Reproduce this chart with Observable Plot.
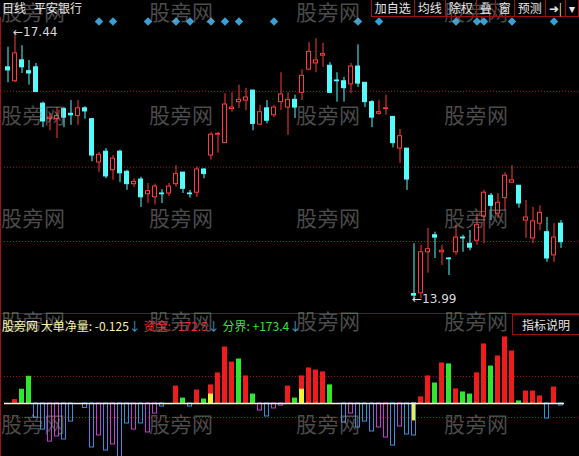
<!DOCTYPE html>
<html>
<head>
<meta charset="utf-8">
<script src="https://cdn.jsdelivr.net/npm/d3@7"></script>
<script src="https://cdn.jsdelivr.net/npm/@observablehq/plot@0.6"></script>
<style>
  html, body { margin: 0; padding: 0; background: #000; }
  #wrap { position: relative; width: 579px; height: 456px; overflow: hidden; background: #000;
          font-family: "Noto Sans CJK SC", "Noto Sans", sans-serif; }
  #wrap svg { position: absolute; left: 0; background: transparent; }
  .abs { position: absolute; white-space: nowrap; }
  .hdr { font-size: 12px; line-height: 14px; color: #e6e6e6; }
  .btns { position: absolute; top: 0; right: 0; height: 17px; display: flex; }
  .btn { border: 1px solid #a01010; border-top: none; margin-left: -1px; padding: 0 3px;
         font-size: 12px; line-height: 16px; color: #e6e6e6; }
  .wm { position: absolute; font-size: 21px; line-height: 22px; color: rgba(150,150,150,0.5);
        pointer-events: none; letter-spacing: 0.5px; }
  .legend { font-size: 12px; line-height: 14px; }
  .arrow { color: #3aa4d8; }
</style>
</head>
<body>
<div id="wrap"></div>
<script>
// ---- daily bars (平安银行, 80 sessions) ----
const opens  = [16.99,16.81,17.08,16.94,16.99,16.52,16.32,16.32,16.45,16.39,
                16.36,16.46,16.32,15.76,15.90,15.66,15.90,15.64,15.48,15.54,
                15.35,15.31,15.36,15.36,15.48,15.63,15.36,15.37,15.67,15.85,
                16.12,16.01,16.45,16.54,16.56,16.69,16.25,16.46,16.37,16.54,
                16.47,16.57,16.66,16.96,17.04,17.14,17.01,16.82,16.81,16.77,
                17.00,16.79,16.54,16.39,16.45,16.35,15.94,15.94,14.06,14.07,
                14.60,14.82,14.60,14.52,14.60,14.79,14.71,14.75,15.06,15.33,
                15.10,15.30,15.50,15.46,15.01,14.78,14.97,14.86,14.56,14.97];
const highs  = [17.25,17.44,17.27,17.08,17.04,16.54,16.39,16.47,16.47,16.56,
                16.56,16.48,16.32,15.89,15.94,15.85,15.92,15.66,15.55,15.57,
                15.49,15.48,15.41,15.49,15.72,15.63,15.40,15.70,15.68,16.15,
                16.15,16.65,16.66,16.76,16.72,16.69,16.50,16.56,16.50,16.92,
                16.66,16.63,16.96,17.31,17.36,17.30,17.05,16.92,16.86,17.04,
                17.28,16.79,16.56,16.56,16.63,16.35,16.19,15.94,14.71,14.69,
                14.91,14.86,14.69,14.53,14.95,14.82,14.88,15.10,15.40,15.36,
                15.36,15.63,15.72,15.46,15.27,15.18,15.20,15.05,14.97,15.01];
const lows   = [16.79,16.79,16.91,16.76,16.67,16.21,16.17,16.07,16.21,16.24,
                16.24,16.32,15.77,15.63,15.55,15.53,15.50,15.40,15.44,15.18,
                15.23,15.21,15.23,15.32,15.44,15.36,15.30,15.31,15.55,15.79,
                15.88,16.01,16.41,16.46,16.43,16.17,16.24,16.26,16.34,16.43,
                16.11,16.33,16.56,16.95,16.92,16.99,16.65,16.54,16.54,16.65,
                16.73,16.47,16.21,16.37,16.37,15.95,15.75,15.40,13.99,14.00,
                14.33,14.52,14.43,14.30,14.56,14.60,14.62,14.69,14.71,15.01,
                15.04,15.14,15.49,15.17,14.78,14.71,14.88,14.47,14.47,14.65];
const closes = [16.95,17.17,16.99,16.91,16.67,16.29,16.34,16.36,16.34,16.37,
                16.46,16.42,15.85,15.86,15.58,15.81,15.62,15.48,15.51,15.31,
                15.39,15.45,15.35,15.45,15.61,15.42,15.35,15.67,15.61,16.12,
                16.13,16.51,16.47,16.57,16.60,16.26,16.41,16.30,16.47,16.64,
                16.57,16.47,16.88,17.19,17.08,17.16,16.66,16.81,16.72,17.00,
                16.78,16.54,16.34,16.41,16.46,16.01,16.10,15.54,14.04,14.60,
                14.64,14.79,14.62,14.51,14.79,14.78,14.66,14.95,15.37,15.20,
                15.24,15.59,15.53,15.23,15.05,15.00,15.11,14.52,14.79,14.73];

// sessions flagged with a signal diamond
const signalDays = [13,15,20,24,26,29,31,33,38,50,53,64,67,68,72,78];

// dotted price guides
const priceGuides = [16.68, 15.70, 14.74];

// ---- 大单净量 indicator ----
const netVolume = [0,0.21,0.86,1.67,-0.88,-1.63,-2.38,-2.06,-2.25,-1.13,
                   0,-0.28,-2.75,-2.0,-2.94,-2.56,-3.5,-1.25,-1.63,-1.25,
                   -1.81,-0.63,-0.19,0,1.06,0.31,-0.19,0.81,0.25,1.13,
                   1.88,3.5,2.56,2.75,1.69,0.56,-0.44,-0.81,-0.31,-0.13,
                   1.06,0.31,1.69,2.19,2.06,1.94,1.13,0,-1.19,-0.63,
                   -1.5,-1.13,-1.75,-1.5,-2.13,-2.63,-1.44,-1.94,-2.0,0.38,
                   1.69,1.25,2.5,2.44,0.88,0.69,0.56,1.88,3.69,2.31,
                   2.94,4.13,3.25,0.13,0.75,0.75,0.44,-0.94,1.0,-0.125];
// bar class: R inflow, G weak inflow, B outflow, M heavy outflow
const netKind = ["B","R","G","G","B","B","M","M","B","B",
                 "B","B","B","M","B","M","B","B","M","B",
                 "M","M","B","B","R","G","B","R","G","R",
                 "R","R","R","G","R","G","M","B","M","M",
                 "R","G","R","R","R","R","G","B","B","M",
                 "B","B","B","M","M","B","M","B","B","R",
                 "R","G","R","G","R","G","G","R","R","G",
                 "R","R","R","G","R","R","R","B","R","B"];
// highlighted share of the bar (yellow)
const yellowShare = {29: 0.56, 42: 0.86, 58: -1.06};
const subGuides = [1.69, -0.88];

const legendValues = {net: -0.125, fund: -172.5, bound: 173.4};
const toolButtons = ["加自选","均线","除权","叠","窗","预测","➜|","▾"];

// ---- drawing ----
const RED = "#ff3b3b", CYAN = "#54fcfc", DIAMOND = "#3a9fd4";
const kindColor = {R: "#ee1c1c", G: "#2ee82e", B: "#3a8fd8", M: "#c23fd0"};
const YELLOW = "#f2f23a";
const GRID = "#a31515";
const n = opens.length;
const half = 2 / 7;                 // half body width in sessions (7px per session)
const xDomain = [-0.5, n - 0.5 + 15 / 7];

const candles = d3.range(n).map(i => ({i, o: opens[i], h: highs[i], l: lows[i], c: closes[i]}));
const ups = candles.filter(d => d.c >= d.o);
const downs = candles.filter(d => d.c < d.o);
const hi = candles[d3.maxIndex(highs)];
const lo = candles[d3.minIndex(lows)];

const wrap = document.getElementById("wrap");

const pricePlot = Plot.plot({
  width: 579, height: 313,
  marginLeft: 4, marginRight: 0, marginTop: 32, marginBottom: 14,
  style: {background: "transparent", overflow: "visible"},
  x: {domain: xDomain, axis: null},
  y: {domain: [d3.min(lows), d3.max(highs)], axis: null},
  marks: [
    Plot.ruleY(priceGuides, {stroke: GRID, strokeDasharray: "1,2"}),
    Plot.ruleX(ups, {x: "i", y1: "l", y2: "h", stroke: RED}),
    Plot.ruleX(downs, {x: "i", y1: "l", y2: "h", stroke: CYAN}),
    Plot.rect(ups, {x1: d => d.i - half, x2: d => d.i + half, y1: "o", y2: "c", fill: "#000", stroke: RED}),
    Plot.rect(downs, {x1: d => d.i - half, x2: d => d.i + half, y1: "o", y2: "c", fill: CYAN, stroke: CYAN}),
    Plot.dot(signalDays, {x: d => d, frameAnchor: "top", dy: -11, symbol: "diamond2", r: 3.8, fill: DIAMOND}),
    Plot.text([hi], {x: "i", y: "h", text: d => "←" + d.h.toFixed(2), textAnchor: "start", dx: -2,
                     fill: "#d8d8d8", fontSize: 12, fontFamily: "DejaVu Sans, sans-serif"}),
    Plot.text([lo], {x: "i", y: "l", text: d => "←" + d.l.toFixed(2), textAnchor: "start", dx: -2,
                     fill: "#d8d8d8", fontSize: 12, fontFamily: "DejaVu Sans, sans-serif"})
  ]
});
pricePlot.style.top = "0px";
wrap.appendChild(pricePlot);

const bars = d3.range(n).filter(i => netVolume[i] !== 0)
  .map(i => ({i, v: netVolume[i], color: kindColor[netKind[i]]}));
const yellowBars = Object.entries(yellowShare).map(([i, v]) => ({i: +i, v}));

const subPlot = Plot.plot({
  width: 579, height: 143,
  marginLeft: 4, marginRight: 0, marginTop: 0, marginBottom: 0,
  style: {background: "transparent"},
  x: {domain: xDomain, axis: null},
  y: {domain: [-53 / 16, 90 / 16], axis: null},
  color: {type: "identity"},
  marks: [
    Plot.ruleY(subGuides, {stroke: GRID, strokeDasharray: "1,2"}),
    Plot.rect(bars.filter(d => d.v > 0), {x1: d => d.i - half, x2: d => d.i + half, y1: 0, y2: "v",
                                           fill: "color", stroke: "color"}),
    Plot.rect(yellowBars, {x1: d => d.i - half, x2: d => d.i + half, y1: 0, y2: "v", fill: YELLOW, stroke: YELLOW}),
    Plot.rect(bars.filter(d => d.v < 0), {x1: d => d.i - half, x2: d => d.i + half, y1: 0, y2: "v",
                                           fill: "none", stroke: "color"}),
    Plot.ruleY([0], {x1: -0.5, x2: n - 0.5, stroke: "#fbfbd0", strokeWidth: 1.5})
  ]
});
subPlot.style.top = "313px";
wrap.appendChild(subPlot);

// frame lines
const frame = document.createElement("div");
frame.className = "abs";
frame.style.cssText = "left:0;top:17px;width:1px;height:439px;background:#a01010;";
wrap.appendChild(frame);
const divider = document.createElement("div");
divider.className = "abs";
divider.style.cssText = "left:0;top:313px;width:579px;height:1px;background:#8a0d0d;";
wrap.appendChild(divider);

// watermark grid
[10, 114, 217, 320, 423].forEach(cy => {
  [1, 149, 296, 444].forEach(x => {
    const w = document.createElement("div");
    w.className = "wm";
    w.textContent = "股旁网";
    w.style.left = x + "px";
    w.style.top = Math.max(0, cy - 11) + "px";
    wrap.appendChild(w);
  });
});

// header
const hdr = document.createElement("div");
hdr.className = "abs hdr";
hdr.style.cssText += "left:2px;top:1px;";
hdr.innerHTML = '日线<span style="margin-left:8px">平安银行</span>';
wrap.appendChild(hdr);

const btns = document.createElement("div");
btns.className = "btns";
toolButtons.forEach(t => {
  const b = document.createElement("div");
  b.className = "btn";
  b.textContent = t;
  btns.appendChild(b);
});
wrap.appendChild(btns);

// indicator legend
const fmt = v => (v > 0 ? "+" : "") + v;
const legend = document.createElement("div");
legend.className = "abs legend";
legend.style.cssText += "left:2px;top:319px;";
legend.innerHTML =
  '<span style="color:#f4f4a8">股旁网 大单净量: ' + legendValues.net + '</span><span class="arrow">↓</span> ' +
  '<span style="color:#e83030">资金: ' + fmt(legendValues.fund) + '</span><span class="arrow">↓</span> ' +
  '<span style="color:#3ce03c">分界: ' + fmt(legendValues.bound) + '</span><span class="arrow">↓</span>';
wrap.appendChild(legend);

const help = document.createElement("div");
help.className = "abs";
help.style.cssText = "left:512px;top:314px;width:66px;height:19px;border:1px solid #a01010;border-right:none;" +
  "color:#e6e6e6;font-size:12px;line-height:19px;text-align:center;";
help.textContent = "指标说明";
wrap.appendChild(help);
</script>
</body>
</html>
